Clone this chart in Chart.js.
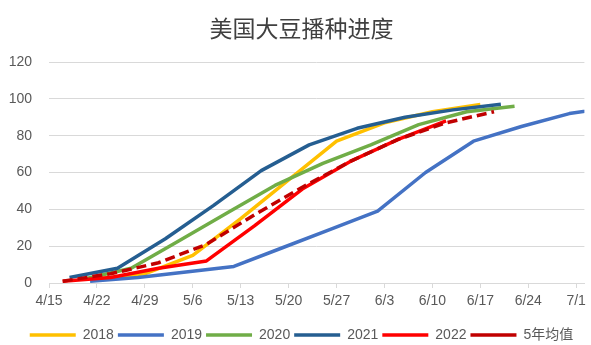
<!DOCTYPE html>
<html>
<head>
<meta charset="utf-8">
<title>美国大豆播种进度</title>
<script src="https://cdn.jsdelivr.net/npm/chart.js@4.4.1/dist/chart.umd.min.js"></script>
<style>
  body { margin: 0; background: #fff; }
  #wrap { width: 591px; height: 345px; }
</style>
</head>
<body>
<div id="wrap"><canvas id="plantChart"></canvas></div>
<script>
// weekly soybean planting progress, % planted
const tickLabels = ['4/15', '4/22', '4/29', '5/6', '5/13', '5/20', '5/27', '6/3', '6/10', '6/17', '6/24', '7/1'];

const dates2018 = ['4/22', '4/29', '5/6', '5/13', '5/20', '5/27', '6/3', '6/10', '6/17'];
const plant2018 = [2, 5, 15, 35, 56, 77, 87, 93, 97];

const dates2019 = ['4/21', '4/28', '5/5', '5/12', '5/19', '5/26', '6/2', '6/9', '6/16', '6/23', '6/30', '7/7'];
const plant2019 = [1, 3, 6, 9, 19, 29, 39, 60, 77, 85, 92, 96];

const dates2020 = ['4/20', '4/27', '5/4', '5/11', '5/18', '5/25', '6/1', '6/8', '6/15', '6/22'];
const plant2020 = [2, 8, 23, 38, 53, 65, 75, 86, 93, 96];

const dates2021 = ['4/18', '4/25', '5/2', '5/9', '5/16', '5/23', '5/30', '6/6', '6/13', '6/20'];
const plant2021 = [3, 8, 24, 42, 61, 75, 84, 90, 94, 97];

const dates2022 = ['4/17', '4/24', '5/1', '5/8', '5/15', '5/22', '5/29', '6/5', '6/12'];
const plant2022 = [1, 3, 8, 12, 31, 51, 66, 78, 88];

const datesAvg = ['4/17', '4/24', '5/1', '5/8', '5/15', '5/22', '5/29', '6/5', '6/12', '6/19'];
const plantAvg = [1, 5, 11, 21, 37, 52, 66, 78, 87, 93];

// days counted from 4/15 so every year shares one x axis
function dayOf(md) {
    let p = md.split('/');
    return (Date.UTC(2022, p[0] - 1, +p[1]) - Date.UTC(2022, 3, 15)) / 86400000;
}

function toPoints(dates, values) {
    return dates.map(function (d, i) {
        return { x: dayOf(d), y: values[i] };
    });
}

function series(label, dates, values, color, order, dash) {
    return {
        label: label,
        data: toPoints(dates, values),
        borderColor: color,
        backgroundColor: color,
        borderWidth: 3.5,
        borderDash: dash || [],
        borderJoinStyle: 'round',
        fill: false,
        tension: 0,
        pointRadius: 0,
        order: order
    };
}

// title and legend sit a little right of the canvas centre
const nudgeBoxes = {
    id: 'nudgeBoxes',
    afterLayout: function (chart) {
        chart.titleBlock.left += 9;
        chart.titleBlock.right += 9;
        chart.legend.left += 9;
        chart.legend.right += 9;
    }
};

Chart.defaults.font.family = '"Liberation Sans", "Noto Sans CJK SC", sans-serif';
Chart.defaults.color = '#595959';

let ctx = document.getElementById('plantChart').getContext('2d');
const plantChart = new Chart(ctx, {
    type: 'line',
    data: {
        datasets: [
            series('2018', dates2018, plant2018, '#FFC000', 5),
            series('2019', dates2019, plant2019, '#4472C4', 4),
            series('2020', dates2020, plant2020, '#70AD47', 3),
            series('2021', dates2021, plant2021, '#255E91', 2),
            series('2022', dates2022, plant2022, '#FF0000', 1),
            series('5年均值', datesAvg, plantAvg, '#C00000', 0, [10, 5])
        ]
    },
    plugins: [nudgeBoxes],
    options: {
        responsive: true,
        maintainAspectRatio: false,
        animation: false,
        layout: { padding: { left: 0, right: 6, top: 0, bottom: -7 } },
        plugins: {
            title: {
                display: true,
                text: '美国大豆播种进度',
                color: '#404040',
                font: { size: 23, weight: 'normal', family: '"Noto Sans CJK SC", sans-serif' },
                padding: { top: 14, bottom: 20.4 }
            },
            legend: {
                position: 'bottom',
                labels: {
                    usePointStyle: true,
                    pointStyle: 'line',
                    pointStyleWidth: 46,
                    padding: 4,
                    color: '#595959',
                    font: { size: 14 },
                    sort: function (a, b) { return a.datasetIndex - b.datasetIndex; }
                }
            },
            tooltip: { enabled: false }
        },
        scales: {
            x: {
                type: 'linear',
                min: 0,
                max: 78.2,
                afterBuildTicks: function (scale) {
                    scale.ticks = tickLabels.map(function (t) { return { value: dayOf(t) }; });
                },
                afterFit: function (scale) { scale.height = 41; },
                ticks: {
                    autoSkip: false,
                    maxRotation: 0,
                    padding: 5,
                    color: '#595959',
                    font: { size: 14 },
                    callback: function (value) {
                        return tickLabels[Math.round(value / 7)];
                    }
                },
                grid: { drawOnChartArea: false, drawTicks: true, tickLength: 5, color: '#d9d9d9' },
                border: { color: '#d9d9d9' }
            },
            y: {
                min: 0,
                max: 120,
                afterFit: function (scale) { scale.width = 49; },
                ticks: { stepSize: 20, padding: 17, color: '#595959', font: { size: 14 } },
                grid: { color: '#d9d9d9', drawTicks: false },
                border: { display: false }
            }
        }
    }
});
</script>
</body>
</html>
